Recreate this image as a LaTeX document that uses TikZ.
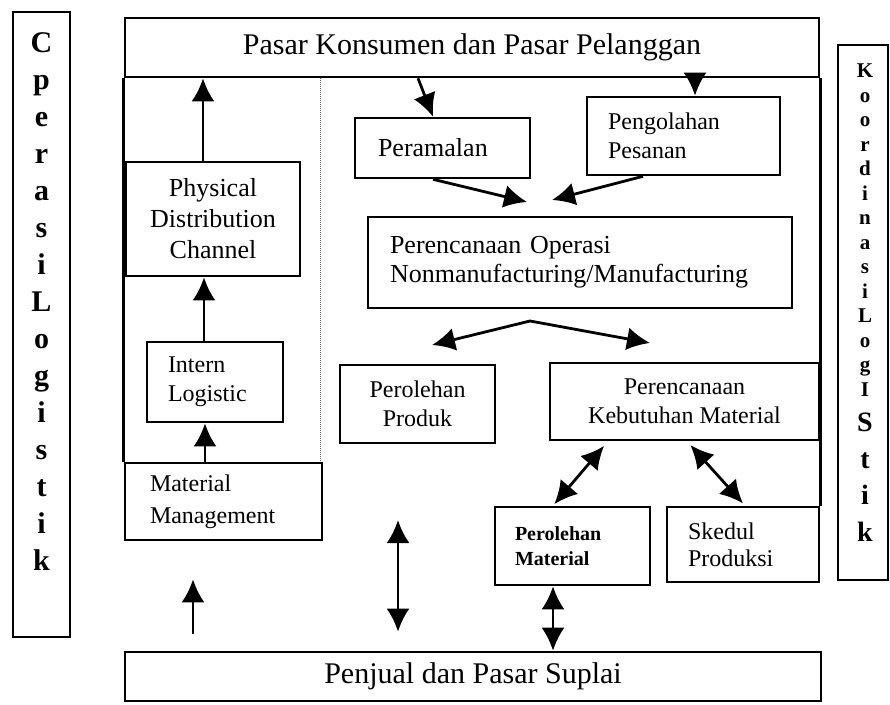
\documentclass[tikz,border=0pt]{standalone}
\usepackage{fontspec}
\setmainfont{Liberation Serif}
\usetikzlibrary{arrows.meta}

\begin{document}
\begin{tikzpicture}[x=1pt, y=-1pt,
    kotak/.style={draw, line width=2.6pt, inner sep=0pt, align=center},
    garis/.style={line width=2.6pt},
    judul/.style={font=\fontsize{30}{36}\selectfont},
    besar/.style={font=\fontsize{26}{31}\selectfont},
    sedang/.style={font=\fontsize{24}{29}\selectfont},
    kecil/.style={font=\fontsize{20}{25}\selectfont\bfseries},
    hurufkiri/.style={font=\fontsize{30}{37}\selectfont\bfseries, align=center},
    hurufkanan/.style={font=\fontsize{21}{24.5}\selectfont\bfseries, align=center},
    hurufkanan2/.style={font=\fontsize{28}{36.5}\selectfont\bfseries, align=center},
    panah/.style={line width=2.8pt, -{Latex[length=23pt, width=23pt]}},
    panahdua/.style={line width=2.8pt, {Latex[length=23pt, width=23pt]}-{Latex[length=23pt, width=23pt]}}]
    \useasboundingbox[fill=white] (0,0) rectangle (890,704);

    % Side columns
    \node[kotak, minimum width=57, minimum height=625] (kiri) at (41.5,324.5) {};
    \node[hurufkiri] (kiriteks) at (41.5,302) {C\\p\\e\\r\\a\\s\\i\\L\\o\\g\\i\\s\\t\\i\\k};
    \node[kotak, minimum width=50, minimum height=535] (kanan) at (863,312.5) {};
    \node[hurufkanan] (kananteks) at (865,230) {K\\o\\o\\r\\d\\i\\n\\a\\s\\i\\L\\o\\g\\I};
    \node[hurufkanan2] (kananteks2) at (865,477) {S\\t\\i\\k};

    % Markets
    \node[kotak, judul, minimum width=694, minimum height=59] (konsumen) at (472,47.5) {Pasar Konsumen dan Pasar Pelanggan};
    \node[kotak, judul, minimum width=696, minimum height=49] (penjual) at (473,676.5) {Penjual dan Pasar Suplai};

    % Left branch
    \node[kotak, besar, minimum width=174, minimum height=114] (physical) at (213,219) {Physical\\Distribution\\Channel};
    \node[kotak, sedang, minimum width=136, minimum height=80, text width=94, align=left] (intern) at (215,382) {Intern\\Logistic};
    \node[kotak, sedang, minimum width=197, minimum height=77, text width=147, align=left, font=\fontsize{24}{32}\selectfont] (mm) at (223.5,501.5) {Material\\Management};

    % Right branch
    \node[kotak, besar, minimum width=175, minimum height=60, text width=129, align=left] (peramalan) at (442.5,148) {Peramalan};
    \node[kotak, sedang, minimum width=193, minimum height=78, text width=151, align=left] (pengolahan) at (683.5,136) {Pengolahan\\Pesanan};
    \node[kotak, besar, minimum width=424, minimum height=91, text width=380, align=left, font=\fontsize{26}{29}\selectfont] (operasi) at (580,262.5) {Perencanaan Operasi\\Nonmanufacturing/Manufacturing};
    \node[kotak, sedang, minimum width=155, minimum height=78] (produk) at (417.5,404) {Perolehan\\Produk};
    \node[kotak, sedang, minimum width=269, minimum height=77] (kebutuhan) at (684.5,401.5) {Perencanaan\\Kebutuhan Material};
    \node[kotak, kecil, minimum width=155, minimum height=78, text width=115, align=left] (pmaterial) at (572.5,546) {Perolehan\\Material};
    \node[kotak, sedang, minimum width=152, minimum height=75, text width=110, align=left, font=\fontsize{24}{27}\selectfont] (skedul) at (743,544.5) {Skedul\\Produksi};

    % Frame and divider
    \draw[garis] (mm.north west) -- (konsumen.south west);
    \draw[garis] (konsumen.south east) -- (skedul.north east);
    \draw[densely dotted, line width=1pt, black!60] (konsumen.south -| 320,0) -- (mm.north -| 320,0);

    % Free ends
    \coordinate (masuk1) at (527,202);
    \coordinate (masuk2) at (552,200);
    \coordinate (cabang) at (530,321);
    \coordinate (ujungkiri) at (432,345);
    \coordinate (ujungkanan) at (650,343);
    \coordinate (bebas) at (398,520);

    % Arrows
    \draw[panah] (physical.north -| 203,0) -- (konsumen.south -| 203,0);
    \draw[panah] (intern.north -| 204,0) -- (physical.south -| 204,0);
    \draw[panah] (mm.north -| 205,0) -- (intern.south -| 205,0);
    \draw[panah, shorten <=17pt, shorten >=38pt] (penjual.north -| 193,0) -- (mm.south -| 193,0);
    \draw[panahdua, shorten <=19pt] (penjual.north -| 398,0) -- (bebas);
    \draw[panah] (konsumen.south -| 418,0) -- (peramalan.north -| 433,0);
    \draw[panah, shorten <=-13pt] (konsumen.south -| 695,0) -- (pengolahan.north -| 695,0);
    \draw[panah] (peramalan.south -| 433,0) -- (masuk1);
    \draw[panah] (pengolahan.south -| 643,0) -- (masuk2);
    \draw[panahdua] (ujungkiri) -- (cabang) -- (ujungkanan);
    \draw[panahdua, shorten <=6pt, shorten >=2pt] (kebutuhan.south -| 608,0) -- (pmaterial.north -| 553,0);
    \draw[panahdua, shorten <=5pt, shorten >=3pt] (kebutuhan.south -| 687,0) -- (skedul.north -| 745,0);
    \draw[panahdua] (pmaterial.south -| 553,0) -- (penjual.north -| 553,0);
\end{tikzpicture}
\end{document}
